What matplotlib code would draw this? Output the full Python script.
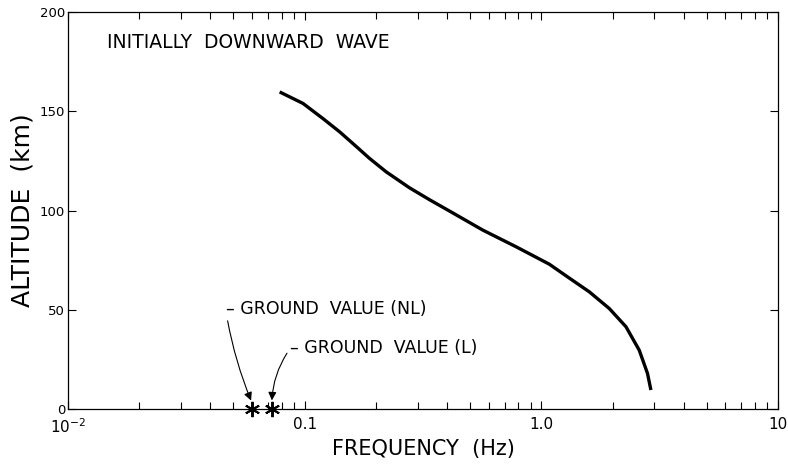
import numpy as np
import matplotlib
matplotlib.use('Agg')
from matplotlib import pyplot as plt

# curve: frequency (Hz) vs altitude (km)
freq = [0.0784, 0.0984, 0.1194, 0.1405, 0.1652, 0.188, 0.2212, 0.2773, 0.3368, 0.409,
        0.5654, 0.7818, 1.081, 1.313, 1.594, 1.936, 2.278, 2.592, 2.809, 2.904]
alt = [159.8, 154.0, 146.4, 139.7, 132.3, 126.3, 119.5, 111.5, 105.5, 99.8,
       90.2, 81.8, 73.0, 66.0, 59.1, 50.7, 41.5, 29.7, 18.0, 9.6]

# ground values (stars on the axis)
ground_nl = 0.060
ground_l = 0.0726

xticks = [0.01, 0.1, 1.0, 10]
xticklabels = ['$10^{-2}$', '0.1', '1.0', '10']
yticks = [0, 50, 100, 150, 200]

plt.rcParams['font.family'] = ['DejaVu Sans']

fig = plt.figure(figsize=(7.88, 4.67), dpi=100)
ax = fig.add_axes([0.0863, 0.124, 0.901, 0.850])

ax.plot(freq, alt, color='black', lw=2.4, solid_capstyle='butt', solid_joinstyle='round')

for g in (ground_nl, ground_l):
    ax.plot([g], [0], marker=(6, 2, 0), ms=11, mew=1.4, color='black', clip_on=False, zorder=5)
    ax.plot([g], [0], marker='o', ms=3.5, color='black', clip_on=False, zorder=5)

ax.set_xscale('log')
ax.set_xlim(0.01, 10)
ax.set_ylim(0, 200)
ax.set_xticks(xticks)
ax.set_xticklabels(xticklabels)
ax.set_yticks(yticks)

ax.tick_params(which='both', direction='in', top=True, right=True, width=0.8)
ax.tick_params(which='major', length=6)
ax.tick_params(which='minor', length=5)
ax.tick_params(axis='x', labelsize=11, pad=6)
ax.tick_params(axis='y', labelsize=9.5, pad=2)
for s in ax.spines.values():
    s.set_linewidth(0.9)

ax.set_xlabel('FREQUENCY  (Hz)', fontsize=15, labelpad=2)
ax.set_ylabel('ALTITUDE  (km)', fontsize=18, labelpad=4)

ax.text(0.055, 0.924, 'INITIALLY  DOWNWARD  WAVE', transform=ax.transAxes,
        fontsize=13.5, ha='left', va='center')

ax.annotate('– GROUND  VALUE (NL)', xy=(ground_nl, 3), xytext=(0.0464, 50.4),
            fontsize=12.5, ha='left', va='center',
            arrowprops=dict(arrowstyle='-|>', color='black', lw=0.8, relpos=(0, 0.45),
                            connectionstyle='arc3,rad=0.06', shrinkA=0, shrinkB=2,
                            mutation_scale=12))
ax.annotate('– GROUND  VALUE (L)', xy=(ground_l, 3), xytext=(0.0865, 30.7),
            fontsize=12.5, ha='left', va='center',
            arrowprops=dict(arrowstyle='-|>', color='black', lw=0.8, relpos=(0, 0.45),
                            connectionstyle='arc3,rad=0.15', shrinkA=0, shrinkB=2,
                            mutation_scale=12))

fig.savefig('out.png', dpi=100)
